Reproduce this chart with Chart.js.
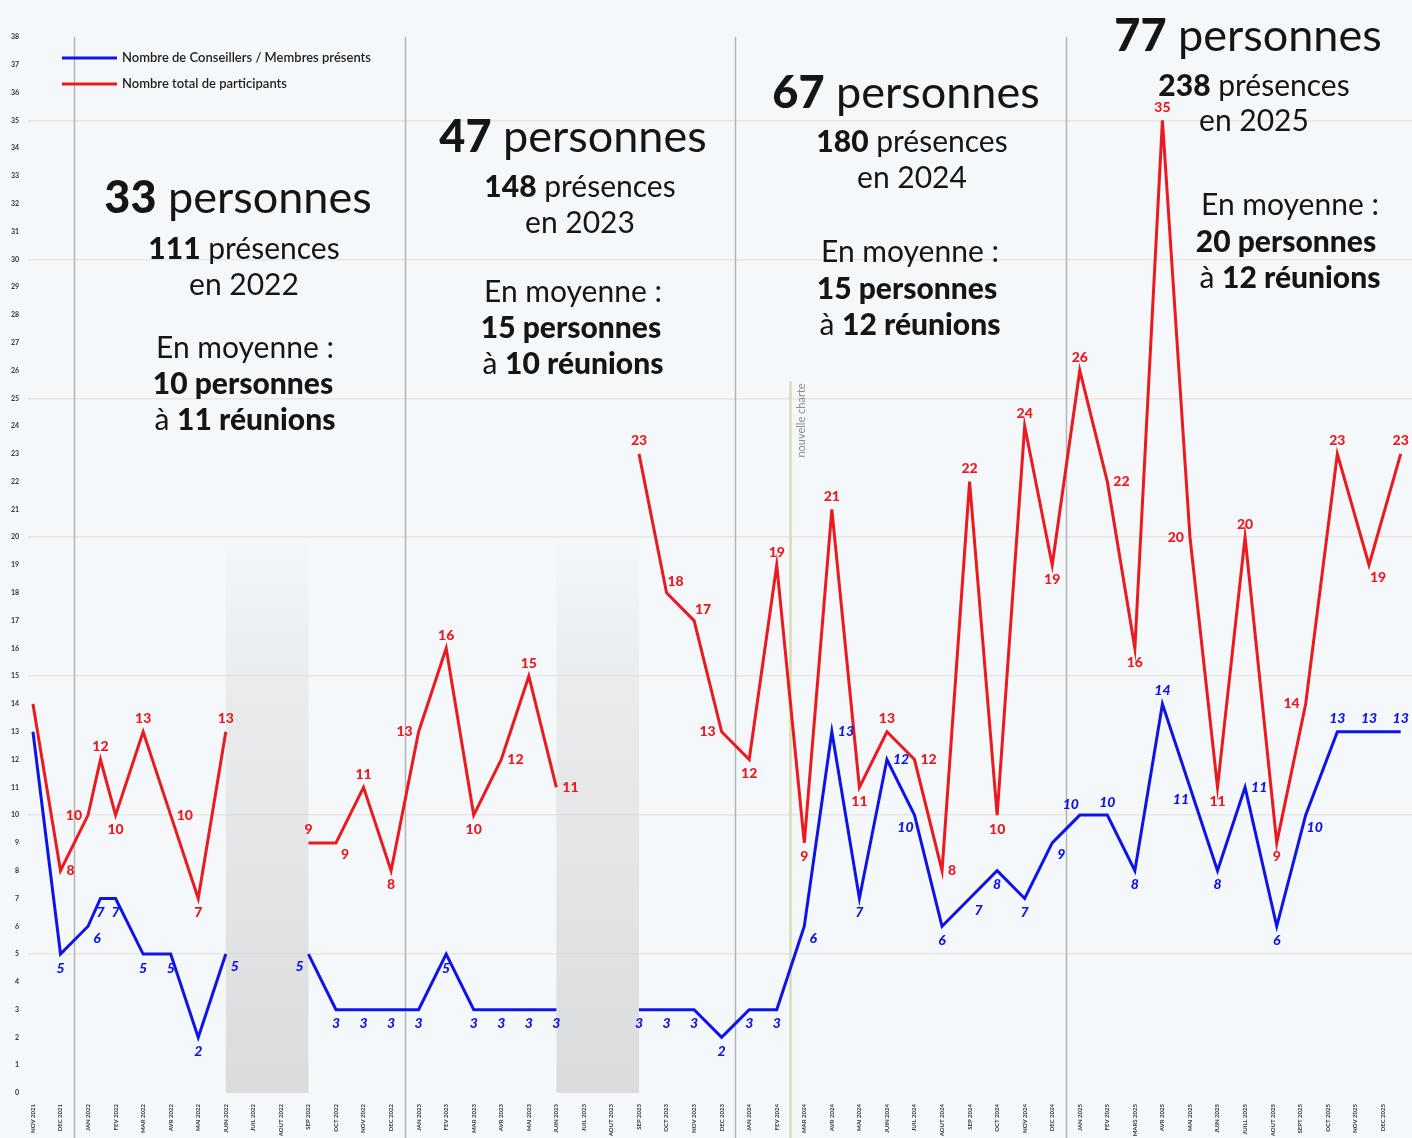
<!DOCTYPE html>
<html><head><meta charset="utf-8">
<script src="https://cdn.jsdelivr.net/npm/chart.js@4/dist/chart.umd.min.js"></script>
<style>
html,body{margin:0;padding:0;background:#f4f8fb;}
#wrap{position:relative;width:1412px;height:1138px;overflow:hidden;background:#f4f8fb;}
canvas{position:absolute;left:0;top:0;}
.ann{position:absolute;transform:translate(-50%,-50%);white-space:nowrap;font-family:Lato,"Open Sans",sans-serif;color:#151515;line-height:1;}
.big{font-size:45px;}
.med{font-size:30px;}
.ann b{font-weight:900;}
</style></head>
<body><div id="wrap"><canvas id="c" width="1412" height="1138"></canvas>
<div class="ann big" style="left:238px;top:196px"><b>33</b> personnes</div>
<div class="ann med" style="left:244px;top:247px"><b>111</b> présences</div>
<div class="ann med" style="left:244px;top:283px">en 2022</div>
<div class="ann med" style="left:245px;top:346px">En moyenne :</div>
<div class="ann med" style="left:243px;top:382px"><b>10 personnes</b></div>
<div class="ann med" style="left:245px;top:418px">à <b>11 réunions</b></div>

<div class="ann big" style="left:573px;top:135px"><b>47</b> personnes</div>
<div class="ann med" style="left:580px;top:185px"><b>148</b> présences</div>
<div class="ann med" style="left:580px;top:221px">en 2023</div>
<div class="ann med" style="left:573px;top:290px">En moyenne :</div>
<div class="ann med" style="left:571px;top:326px"><b>15 personnes</b></div>
<div class="ann med" style="left:573px;top:362px">à <b>10 réunions</b></div>

<div class="ann big" style="left:906px;top:91px"><b>67</b> personnes</div>
<div class="ann med" style="left:912px;top:140px"><b>180</b> présences</div>
<div class="ann med" style="left:912px;top:176px">en 2024</div>
<div class="ann med" style="left:910px;top:250px">En moyenne :</div>
<div class="ann med" style="left:907px;top:287px"><b>15 personnes</b></div>
<div class="ann med" style="left:910px;top:323px">à <b>12 réunions</b></div>

<div class="ann big" style="left:1248px;top:34px"><b>77</b> personnes</div>
<div class="ann med" style="left:1254px;top:84px"><b>238</b> présences</div>
<div class="ann med" style="left:1254px;top:119px">en 2025</div>
<div class="ann med" style="left:1290px;top:203px">En moyenne :</div>
<div class="ann med" style="left:1286px;top:240px"><b>20 personnes</b></div>
<div class="ann med" style="left:1290px;top:276px">à <b>12 réunions</b></div>
</div>
<script>
const months = ["NOV 2021","DEC 2021",
 "JAN 2022","FEV 2022","MAR 2022","AVR 2022","MAI 2022","JUIN 2022","JUIL 2022","AOUT 2022","SEP 2022","OCT 2022","NOV 2022","DEC 2022",
 "JAN 2023","FEV 2023","MAR 2023","AVR 2023","MAI 2023","JUIN 2023","JUIL 2023","AOUT 2023","SEP 2023","OCT 2023","NOV 2023","DEC 2023",
 "JAN 2024","FEV 2024","MAR 2024","AVR 2024","MAI 2024","JUIN 2024","JUIL 2024","AOUT 2024","SEP 2024","OCT 2024","NOV 2024","DEC 2024",
 "JAN 2025","FEV 2025","MARS 2025","AVR 2025","MAI 2025","JUIN 2025","JUILL 2025","AOUT 2025","SEPT 2025","OCT 2025","NOV 2025","DEC 2025"];

// position of each meeting on the month axis (index into months), gaps = months without meeting
const meetingPos = [0,1,2,2.45,3,4,5,6,7,8,9,10,11,12,13,
 14,15,16,17,18,19,20,21,22,23,24,25,
 26,27,28,29,30,31,32,33,34,35,36,37,
 38,39,40,41,42,43,44,45.15,46.2,47.35,48.5,49.65];
const membres = [13,5,6,7,7,5,5,2,5,null,null,5,3,3,3,
 3,5,3,3,3,3,null,null,3,3,3,2,
 3,3,6,13,7,12,10,6,7,8,7,9,
 10,10,8,14,11,8,11,6,10,13,13,13];
const participants = [14,8,10,12,10,13,10,7,13,null,null,9,9,11,8,
 13,16,10,12,15,11,null,null,23,18,17,13,
 12,19,9,21,11,13,12,8,22,10,24,19,
 26,22,16,35,20,11,20,9,14,23,19,23];
const membresLabelSide = ['n','b','br','b','b','b','b','b','br',null,null,'bl','b','b','b',
 'b','b','b','b','b','b',null,null,'b','b','b','b',
 'b','b','br','r','b','r','bl','b','br','b','b','br',
 'tl','t','b','t','bl','b','r','b','br','t','t','t'];
const participantsLabelSide = ['n','r','l','t','b','t','r','b','t',null,null,'t','br','t','b',
 'l','t','b','r','t','r',null,null,'t','tr','tr','l',
 'b','t','b','t','b','t','r','r','t','b','t','b',
 't','r','b','t','l','b','t','b','l','t','br','t'];
const yearDividers = [1.5,13.5,25.5,37.5];
const noMeetingBands = [[7,10],[19,22]];
const charterChange = 27.5;

const BLUE = '#0f14e6', RED = '#ea1a1f';

const pts = arr => meetingPos.map((p,i)=>({x:p, y:arr[i]}));

const bgPlugin = {
  id:'bg',
  beforeDraw(chart){
    const {ctx,width,height} = chart;
    ctx.save(); ctx.fillStyle='#f4f8fb'; ctx.fillRect(0,0,width,height); ctx.restore();
  },
  beforeDatasetsDraw(chart){
    const {ctx, scales:{x,y}} = chart;
    const bottom = y.getPixelForValue(0);
    ctx.save();
    noMeetingBands.forEach(([a,b])=>{
      const x0 = x.getPixelForValue(a), x1 = x.getPixelForValue(b);
      const top = y.getPixelForValue(20);
      const g = ctx.createLinearGradient(0, top, 0, bottom);
      g.addColorStop(0,'rgba(205,205,205,0)');
      g.addColorStop(0.3,'rgba(215,215,215,0.4)');
      g.addColorStop(1,'rgba(212,212,212,0.8)');
      ctx.fillStyle = g;
      ctx.fillRect(x0, top, x1-x0, bottom-top);
    });
    ctx.strokeStyle='#b3b3b3'; ctx.lineWidth=1.5;
    yearDividers.forEach(v=>{
      const px = Math.round(x.getPixelForValue(v))+0.5;
      ctx.beginPath(); ctx.moveTo(px, y.getPixelForValue(38)); ctx.lineTo(px, chart.height); ctx.stroke();
    });
    const gx = x.getPixelForValue(charterChange);
    ctx.strokeStyle='#d6ddb2'; ctx.lineWidth=2.5;
    ctx.beginPath(); ctx.moveTo(gx, y.getPixelForValue(25.6)); ctx.lineTo(gx, chart.height); ctx.stroke();
    ctx.save();
    ctx.translate(gx+11, y.getPixelForValue(24.2));
    ctx.rotate(-Math.PI/2);
    ctx.fillStyle='#8a8a8a'; ctx.font='11px Lato, sans-serif';
    ctx.textAlign='center'; ctx.textBaseline='middle';
    ctx.fillText('nouvelle charte',0,0);
    ctx.restore();
    ctx.restore();
  },
  afterDatasetsDraw(chart){
    const {ctx} = chart;
    const off = {t:[0,-13],b:[0,14],l:[-1,0],r:[1,0],tr:[9,-11],tl:[-9,-11],br:[9,12],bl:[-9,12]};
    ctx.save();
    ctx.textBaseline='middle';
    chart.data.datasets.forEach((ds,di)=>{
      const sides = ds.labelSides;
      const meta = chart.getDatasetMeta(di);
      ctx.fillStyle = ds.borderColor;
      ctx.font = (di===0?'italic ':'') + '900 14px Lato, sans-serif';
      meta.data.forEach((el,i)=>{
        const v = ds.data[i].y; const s = sides[i];
        if (v==null || !s || s==='n') return;
        const txt = String(v);
        const w = ctx.measureText(txt).width;
        let px = el.x, py = el.y;
        if (s==='l'){ px = el.x - 6 - w/2; }
        else if (s==='r'){ px = el.x + 6 + w/2; }
        else { px += off[s][0]; py += off[s][1]; }
        ctx.textAlign='center';
        ctx.fillText(txt, px, py);
      });
    });
    // legend
    ctx.font='600 13px Lato, sans-serif';
    ctx.textAlign='left';
    chart.data.datasets.forEach((ds,di)=>{
      const ly = 58 + di*26;
      ctx.strokeStyle = ds.borderColor; ctx.lineWidth=3;
      ctx.beginPath(); ctx.moveTo(62,ly); ctx.lineTo(117,ly); ctx.stroke();
      ctx.fillStyle='#1e1e1e';
      ctx.fillText(ds.label, 122, ly);
    });
    ctx.restore();
  }
};

new Chart(document.getElementById('c'), {
  type:'line',
  data:{
    datasets:[
      {label:'Nombre de Conseillers / Membres présents', data:pts(membres), borderColor:BLUE, backgroundColor:BLUE, labelSides:membresLabelSide},
      {label:'Nombre total de participants', data:pts(participants), borderColor:RED, backgroundColor:RED, labelSides:participantsLabelSide}
    ]
  },
  options:{
    responsive:false, animation:false, devicePixelRatio:1,
    layout:{padding:{top:37,right:0,left:0,bottom:0}},
    elements:{line:{borderWidth:3, tension:0, borderJoinStyle:'miter'}, point:{radius:0, hoverRadius:0}},
    spanGaps:false,
    plugins:{legend:{display:false}, tooltip:{enabled:false}},
    scales:{
      x:{type:'linear', min:-0.18, max:50.06,
        afterBuildTicks(s){ s.ticks = months.map((m,i)=>({value:i})); },
        afterFit(s){ s.height = 45; },
        grid:{display:false}, border:{display:false},
        ticks:{autoSkip:false, minRotation:90, maxRotation:90, padding:3,
          font:{family:'Lato, sans-serif', size:6, weight:'bold'}, color:'#333',
          callback:(v)=> months[v] ?? ''}
      },
      y:{min:0, max:38,
        afterFit(s){ s.width = 28; },
        border:{display:false},
        grid:{drawTicks:false, color:(c)=> (c.tick && c.tick.value%5===0 && c.tick.value>0) ? 'rgba(222,214,205,0.55)' : 'rgba(0,0,0,0)', lineWidth:1.5},
        ticks:{stepSize:1, padding:9, font:{family:'Lato, sans-serif', size:7, weight:'bold'}, color:'#333'}
      }
    }
  },
  plugins:[bgPlugin]
});
</script>
</body></html>
